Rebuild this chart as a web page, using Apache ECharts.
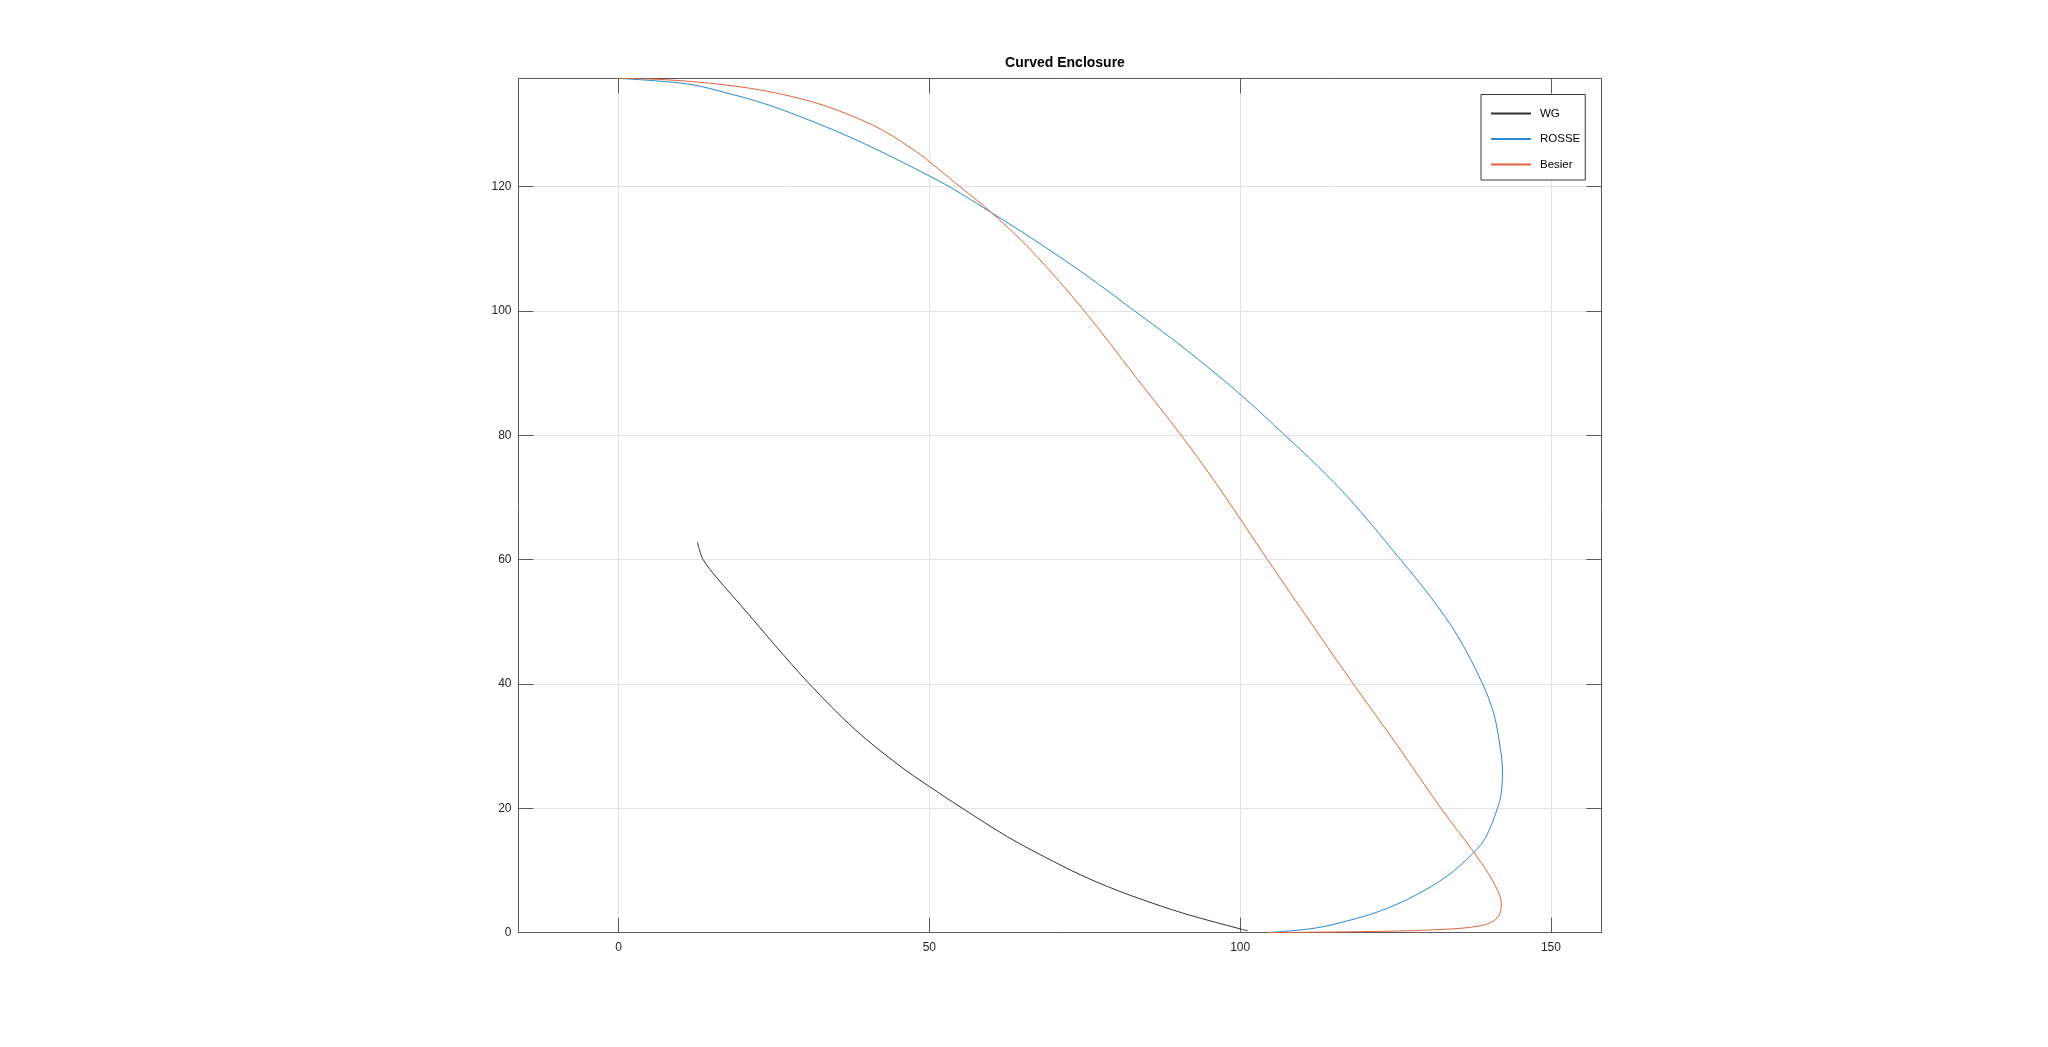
<!DOCTYPE html>
<html><head><meta charset="utf-8">
<script src="https://cdn.jsdelivr.net/npm/echarts@6/dist/echarts.min.js"></script>
<style>html,body{margin:0;padding:0;background:#fff}#c{width:2048px;height:1047px}</style>
</head><body><div id="c"></div>
<script>
const titleText = 'Curved Enclosure';
const seriesNames = ['WG', 'ROSSE', 'Besier'];
const xTicks = [0, 50, 100, 150];
const yTicks = [0, 20, 40, 60, 80, 100, 120];
const xRange = [-16.1, 158.1];
const yRange = [0, 137.4];

const wg = [[12.7,62.8],[13.0,61.6],[13.6,60.0],[15.7,57.2],[20.4,51.8],[25.1,46.3],[30.7,40.0],[38.0,32.7],[45.0,27.0],[50.0,23.5],[55.3,20.0],[62.6,15.4],[68.5,12.2],[74.3,9.3],[80.2,6.8],[86.0,4.7],[91.9,2.8],[100.0,0.6],[101.2,0.3]];

const rosse = [[0,137.4],[6.1,137.0],[11.8,136.4],[17.6,135.0],[23.3,133.4],[29.1,131.3],[34.8,129.0],[40.6,126.4],[46.3,123.6],[50.0,121.7],[53.2,120.0],[60.0,115.8],[66.6,111.6],[75.0,105.9],[83.0,100.0],[91.0,94.0],[100,86.6],[107.2,80.0],[112.4,75.1],[117.8,69.5],[125.8,60.0],[130.7,53.9],[135.0,47.7],[139.0,40.0],[140.8,35.2],[141.8,30.0],[142.2,26.0],[142.0,22.5],[141.4,20.0],[139.5,15.3],[137.6,12.9],[133.3,9.1],[128.0,5.9],[122.6,3.5],[117.3,1.9],[111.9,0.7],[104.4,0]];

const besier = [[0,137.4],[5.1,137.3],[10.45,137.0],[15.8,136.5],[21.2,135.8],[26.5,134.8],[31.9,133.4],[37.2,131.5],[42.6,129.0],[47.9,125.6],[50.0,124.0],[54.9,120.0],[60.0,115.8],[66.6,109.5],[75.0,99.9],[83.1,89.5],[90.5,80.0],[96.3,72.0],[104.4,60.0],[109.8,52.1],[118.2,40.0],[125.3,30.1],[132.3,20.0],[137.6,12.9],[140.8,8.0],[142.0,4.6],[141.4,2.4],[138.7,1.1],[130.7,0.43],[119.9,0.16],[104.4,0]];

const colors = ['#333333', '#2a8ad2', '#e0643a'];
const seriesData = [wg, rosse, besier];

const chart = echarts.init(document.getElementById('c'), null, {renderer: 'canvas'});
const axisColor = '#5a5a5a';
const gridColor = '#e3e3e3';
const fontFam = 'Liberation Sans, Arial, sans-serif';
const labelFont = {color: '#262626', fontSize: 12, fontFamily: fontFam};

function xAxisCfg(pos, main) {
  return {
    type: 'value', position: pos, min: xRange[0], max: xRange[1],
    axisLine: {show: true, onZero: false, lineStyle: {color: axisColor, width: 1}},
    axisTick: {show: true, inside: true, length: 15, customValues: xTicks, lineStyle: {color: axisColor}},
    axisLabel: {show: main, customValues: xTicks, margin: 9.5, ...labelFont},
    splitLine: {show: main, lineStyle: {color: gridColor, width: 1}}
  };
}
function yAxisCfg(pos, main) {
  return {
    type: 'value', position: pos, min: yRange[0], max: yRange[1],
    axisLine: {show: true, onZero: false, lineStyle: {color: axisColor, width: 1}},
    axisTick: {show: true, inside: true, length: 15, customValues: yTicks, lineStyle: {color: axisColor}},
    axisLabel: {show: main, customValues: yTicks, margin: 7, ...labelFont},
    splitLine: {show: main, lineStyle: {color: gridColor, width: 1}}
  };
}

chart.setOption({
  animation: false,
  backgroundColor: '#ffffff',
  title: {
    text: titleText, left: 1060, top: 51, textAlign: 'center',
    textStyle: {fontSize: 14, fontWeight: 'bold', color: '#000', fontFamily: fontFam}
  },
  legend: {
    orient: 'vertical', left: 1481, top: 94.5,
    data: seriesNames,
    backgroundColor: '#ffffff', borderColor: '#3a3a3a', borderWidth: 1,
    padding: [13, 5, 9.5, 9], itemWidth: 40, itemHeight: 14, itemGap: 13.5,
    itemStyle: {opacity: 0},
    textStyle: {fontSize: 11.5, color: '#000', fontFamily: fontFam, padding: [0, 0, 0, 4]}
  },
  grid: {left: 518.5, top: 78.4, right: 2048 - 1601.3, bottom: 1047 - 932.6, containLabel: false},
  xAxis: [xAxisCfg('bottom', true), xAxisCfg('top', false)],
  yAxis: [yAxisCfg('left', true), yAxisCfg('right', false)],
  series: seriesNames.map((n, i) => ({
    name: n, type: 'line', data: seriesData[i], xAxisIndex: 0, yAxisIndex: 0,
    symbol: 'none', smooth: 0.35, clip: false,
    lineStyle: {color: colors[i], width: 1}, itemStyle: {color: colors[i]}
  }))
});
</script>
</body></html>
